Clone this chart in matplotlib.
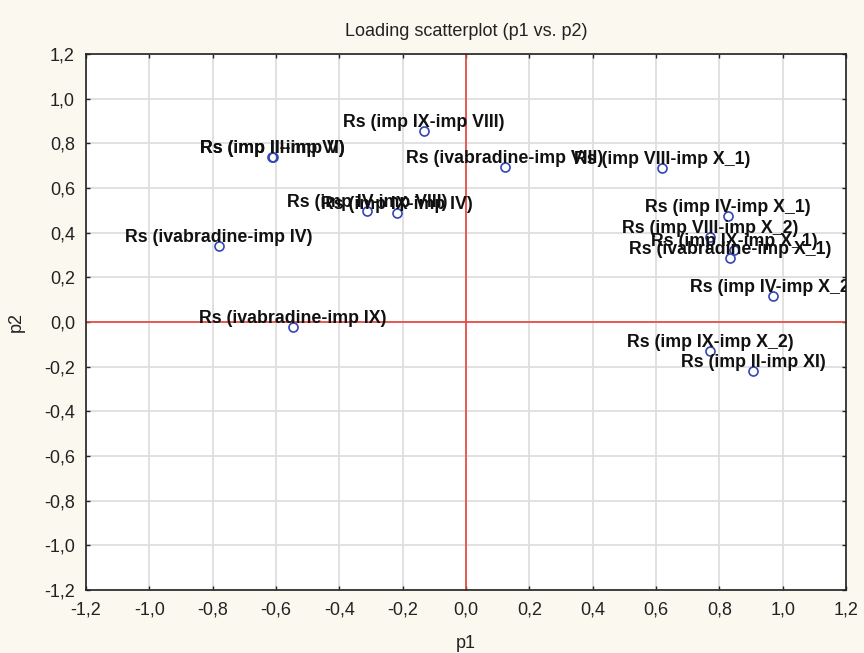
import matplotlib
matplotlib.use("Agg")
import matplotlib.pyplot as plt
from matplotlib.ticker import FuncFormatter
import numpy as np

labels = [
    "Rs (imp IX-imp VIII)",
    "Rs (imp III-imp V)",
    "Rs (imp II-imp VI)",
    "Rs (ivabradine-imp VIII)",
    "Rs (imp VIII-imp X_1)",
    "Rs (imp IV-imp VIII)",
    "Rs (imp IX-imp IV)",
    "Rs (ivabradine-imp IV)",
    "Rs (ivabradine-imp IX)",
    "Rs (imp IV-imp X_1)",
    "Rs (imp VIII-imp X_2)",
    "Rs (imp IX-imp X_1)",
    "Rs (ivabradine-imp X_1)",
    "Rs (imp IV-imp X_2)",
    "Rs (imp IX-imp X_2)",
    "Rs (imp II-imp XI)",
]
p1 = [-0.133, -0.610, -0.612, 0.123, 0.620, -0.313, -0.218, -0.780, -0.547,
      0.828, 0.771, 0.847, 0.834, 0.970, 0.771, 0.907]
p2 = [0.853, 0.737, 0.738, 0.696, 0.688, 0.496, 0.487, 0.340, -0.022,
      0.473, 0.379, 0.321, 0.286, 0.116, -0.130, -0.219]

ticks = [-1.2, -1.0, -0.8, -0.6, -0.4, -0.2, 0.0, 0.2, 0.4, 0.6, 0.8, 1.0, 1.2]

plt.rcParams['font.family'] = ['Liberation Sans', 'DejaVu Sans']

fig = plt.figure(figsize=(8.64, 6.53), dpi=100, facecolor='#fbf8f0')
ax = fig.add_axes([86/864, 1-590/653, (846-86)/864, (590-54)/653])
ax.set_facecolor('white')

ax.set_xlim(-1.2, 1.2)
ax.set_ylim(-1.2, 1.2)
ax.set_xticks(ticks)
ax.set_yticks(ticks)
fmt = FuncFormatter(lambda v, pos: f"{v:.1f}".replace('.', ',').replace('-0,0', '0,0'))
ax.xaxis.set_major_formatter(fmt)
ax.yaxis.set_major_formatter(fmt)
ax.tick_params(direction='in', length=3, width=1, top=True, right=True,
               labelsize=13, colors='#222222', pad=8)
ax.grid(True, color='#dedede', linewidth=1.3)
ax.set_axisbelow(True)
for s in ax.spines.values():
    s.set_color('#222222')
    s.set_linewidth(1.2)

ax.axhline(0, color='#e8433b', linewidth=1.2, zorder=2)
ax.axvline(0, color='#e8433b', linewidth=1.2, zorder=2)

ax.plot(p1, p2, linestyle='none', marker='o', markersize=6.5,
        markerfacecolor='none', markeredgecolor='#3346b5', markeredgewidth=1.2, zorder=3)

for lab, x, y in zip(labels, p1, p2):
    t = ax.text(x, y, lab, ha='center', va='bottom', fontsize=12.8, fontweight='bold',
                color='#111111', zorder=4, clip_on=True)
    t.set_clip_path(ax.patch)

ax.set_title("Loading scatterplot (p1 vs. p2)", fontsize=13, pad=13, color='#222222')
ax.set_xlabel("p1", fontsize=13, labelpad=12, color='#222222')
ax.set_ylabel("p2", fontsize=13, labelpad=14, color='#222222')

fig.savefig("out.png", dpi=100, facecolor=fig.get_facecolor())
